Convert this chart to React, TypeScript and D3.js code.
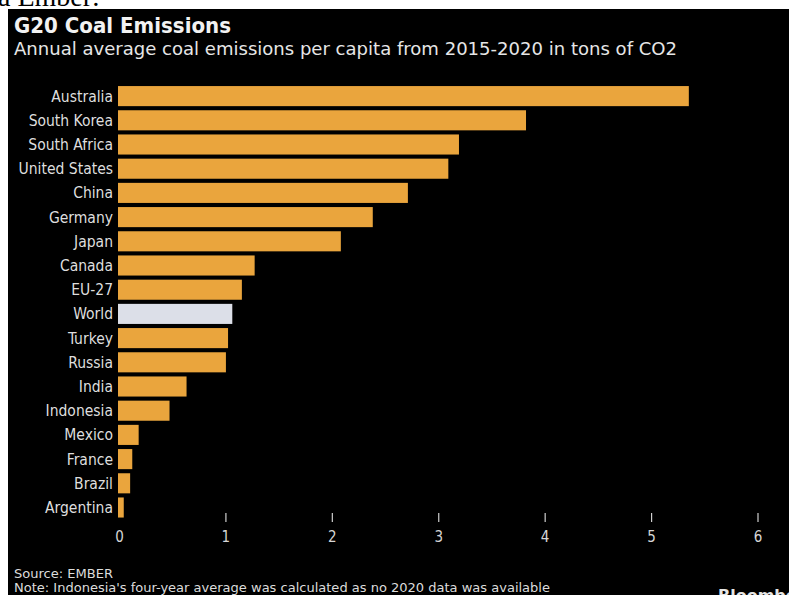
import React from "react";
import * as d3 from "d3";

const countries = [
  "Australia", "South Korea", "South Africa", "United States", "China", "Germany",
  "Japan", "Canada", "EU-27", "World", "Turkey", "Russia", "India", "Indonesia",
  "Mexico", "France", "Brazil", "Argentina",
];
const emissions = [
  5.35, 3.82, 3.19, 3.09, 2.71, 2.38, 2.08, 1.27, 1.15, 1.06, 1.02, 1.0, 0.63, 0.47,
  0.18, 0.12, 0.1, 0.04,
];
const highlight = ["World"];
const tickValues = [0, 1, 2, 3, 4, 5, 6];

const title = "G20 Coal Emissions";
const subtitle = "Annual average coal emissions per capita from 2015-2020 in tons of CO2";
const source = "Source: EMBER";
const note = "Note: Indonesia's four-year average was calculated as no 2020 data was available";

export default function App() {
  const W = 789;
  const H = 595;
  const x = d3.scaleLinear().domain([0, 6]).range([119.5, 758]);
  const y = d3
    .scaleBand<string>()
    .domain(countries)
    .range([84, 84 + countries.length * 24.2])
    .paddingInner(0.17)
    .paddingOuter(0.085);

  const labelFont = "'DejaVu Sans', sans-serif";
  const condFont = "'DejaVu Sans Condensed', 'DejaVu Sans', sans-serif";

  return (
    <svg
      width={W}
      height={H}
      style={{ position: "absolute", left: 0, top: 0, display: "block" }}
    >
      <rect x={0} y={0} width={W} height={H} fill="#ffffff" />
      <text x={-2} y={6} fontFamily="'Liberation Serif', serif" fontSize={28} fill="#000">
        a Ember:
      </text>
      <rect x={8} y={9} width={W - 8} height={H - 9} fill="#000000" />

      <text
        x={14}
        y={33}
        fontFamily={labelFont}
        fontWeight="bold"
        fontSize={21}
        fill="#f2f2f2"
        textLength={217}
        lengthAdjust="spacingAndGlyphs"
      >
        {title}
      </text>
      <text
        x={14}
        y={55}
        fontFamily={labelFont}
        fontSize={17}
        fill="#e6e6e6"
        textLength={663}
        lengthAdjust="spacingAndGlyphs"
      >
        {subtitle}
      </text>

      {countries.map((c, i) => (
        <g key={c}>
          <rect
            x={x(0) - 1.5}
            y={y(c)}
            width={x(emissions[i]) - x(0) + 1.5}
            height={y.bandwidth()}
            fill={highlight.includes(c) ? "#dcdfe8" : "#eaa53d"}
          />
          <text
            x={113}
            y={(y(c) as number) + y.bandwidth() / 2}
            dy="0.36em"
            textAnchor="end"
            fontFamily={condFont}
            fontSize={15.5}
            fill="#dedede"
          >
            {c}
          </text>
        </g>
      ))}

      {tickValues.map((t) => (
        <g key={t}>
          {t !== 0 && (
            <line x1={x(t)} x2={x(t)} y1={513} y2={522} stroke="#cfcfcf" strokeWidth={1.2} />
          )}
          <text
            x={x(t)}
            y={542}
            textAnchor="middle"
            fontFamily={condFont}
            fontSize={15}
            fill="#d6d6d6"
          >
            {t}
          </text>
        </g>
      ))}

      <text
        x={14}
        y={578}
        fontFamily={condFont}
        fontSize={13}
        fill="#dcdcdc"
        textLength={99}
        lengthAdjust="spacingAndGlyphs"
      >
        {source}
      </text>
      <text
        x={14}
        y={592}
        fontFamily={condFont}
        fontSize={13}
        fill="#dcdcdc"
        textLength={536}
        lengthAdjust="spacingAndGlyphs"
      >
        {note}
      </text>
      <text
        x={718}
        y={601}
        fontFamily={labelFont}
        fontWeight="bold"
        fontSize={16}
        fill="#e6e6e6"
      >
        Bloomberg
      </text>
    </svg>
  );
}
